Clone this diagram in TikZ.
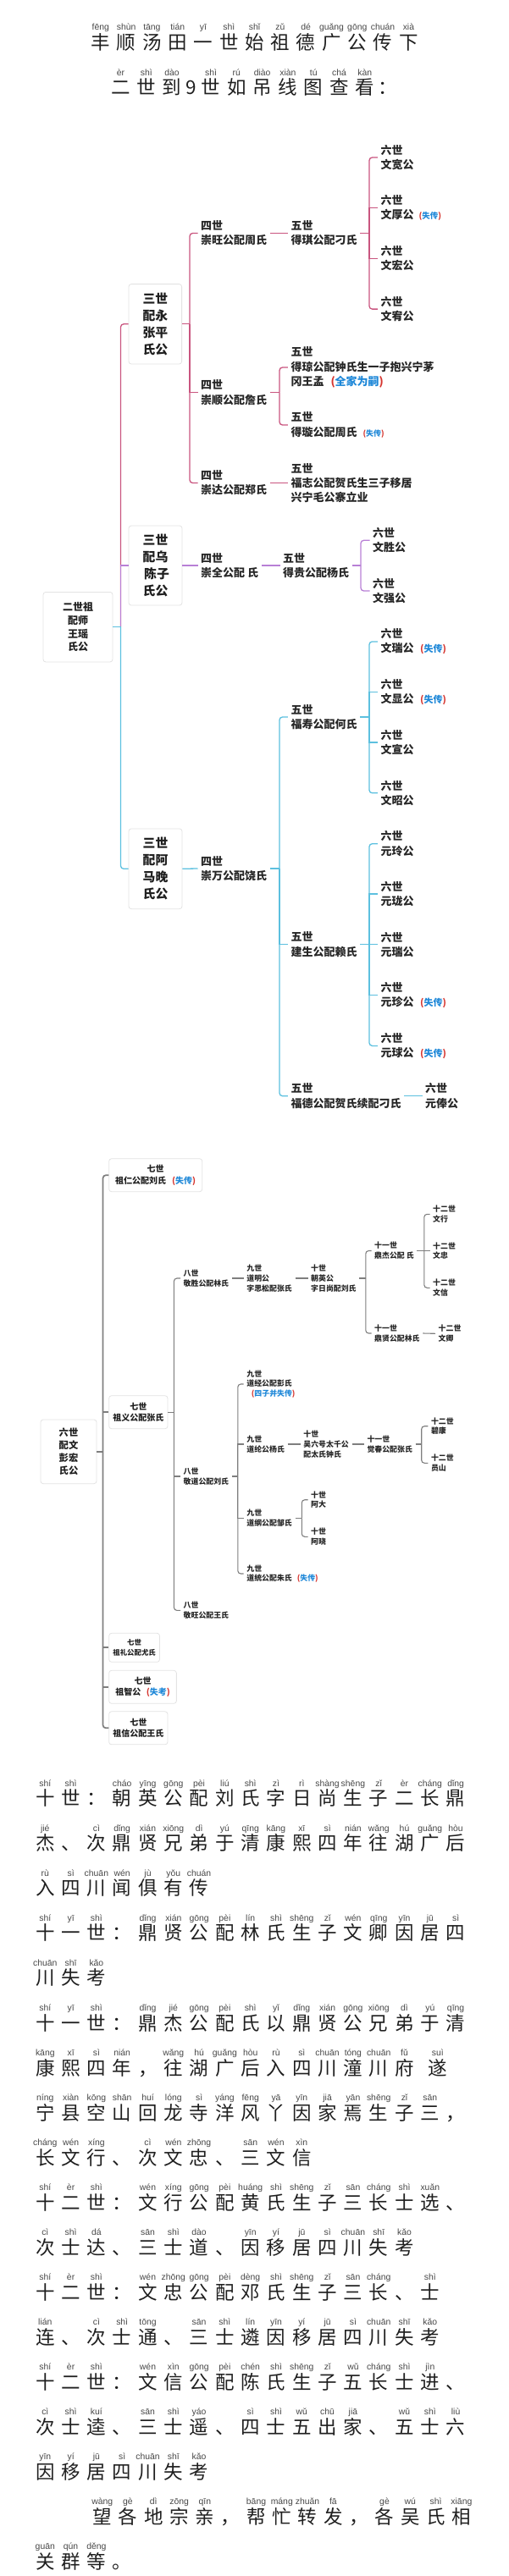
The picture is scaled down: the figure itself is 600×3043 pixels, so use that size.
\documentclass[tikz,border=0pt]{standalone}
\usepackage{fontspec}
\usepackage{xcolor}
\newfontfamily\cjk{Noto Sans CJK SC}
\newfontfamily\pyfont{Liberation Sans}

\definecolor{pinkrule}{HTML}{C9557F}
\definecolor{violetrule}{HTML}{B87FD6}
\definecolor{bluerule}{HTML}{5CC0DF}
\definecolor{grayrule}{HTML}{7E7E7E}
\definecolor{noteblue}{HTML}{1F88D8}
\definecolor{notered}{HTML}{D5342E}

\tikzset{
  hanzi/.style={font=\cjk\fontsize{22.5}{24}\selectfont, text=black!88, inner sep=0pt, text height=19pt, text depth=3.5pt},
  pinyin/.style={font=\pyfont\fontsize{10.4}{12}\selectfont, text=black!72, inner sep=0pt, text height=7.6pt, text depth=2.2pt},
  twig/.style={anchor=west, align=left, inner xsep=3.5pt, inner ysep=0pt, text=black!85},
  big/.style={twig, font=\cjk\bfseries\fontsize{13}{17.3}\selectfont},
  tiny/.style={twig, font=\cjk\bfseries\fontsize{8.9}{11.7}\selectfont},
  card/.style={draw=black!11, line width=0.8, rounded corners=3, fill=white, align=center, inner sep=0pt, text=black!88},
  softbend/.style={rounded corners=3.5},
  pinkrail/.style={draw=pinkrule, line width=1.3},
  violetrail/.style={draw=violetrule, line width=1.3},
  bluerail/.style={draw=bluerule, line width=1.3},
  grayrail/.style={draw=grayrule, line width=1.1},
  mainrail/.style={draw=grayrule, line width=1.7}
}

% one row of characters, each with its pinyin above
\newcommand{\pyrow}[4]{%
  \foreach \py/\ch [count=\k from 0] in {#4} {
    \pgfmathsetmacro{\cx}{#3+30.3*\k}
    \node[hanzi] (#1c\k) at (\cx,#2) {\ch};
    \node[pinyin] (#1p\k) at (\cx,#2-17.7) {\py};
  }%
}
\newcommand{\lost}[3]{{\hspace*{#1pt}\fontsize{#2}{#2}\selectfont\textcolor{notered}{(}\textcolor{noteblue}{#3}\textcolor{notered}{)}}}

\begin{document}
\begin{tikzpicture}[x=1pt, y=-1pt]
\useasboundingbox (0,0) rectangle (600,3043);

% title

\pyrow{ta}{51}{118.8}{fēng/丰,shùn/顺,tāng/汤,tián/田,yī/一,shì/世,shǐ/始,zǔ/祖,dé/德,guǎng/广,gōng/公,chuán/传,xià/下}
\pyrow{tb}{104}{142.5}{èr/二,shì/世,dào/到}
\node[hanzi] (tb9) at (226,104) {9};
\pyrow{tc}{104}{249}{shì/世,rú/如,diào/吊,xiàn/线,tú/图,chá/查,kàn/看}
\pyrow{td}{104}{458}{{}/：}

% second to sixth generation

\node[card, minimum width=82, minimum height=82.5, font=\cjk\bfseries\fontsize{12}{15.6}\selectfont] (g2) at (92,740.7) {二世祖\\配师\\王瑶\\氏公};

\node[card, minimum width=62.6, minimum height=94.4, font=\cjk\bfseries\fontsize{14.8}{20}\selectfont] (g3a) at (183.3,382.8) {三世\\配永\\张平\\氏公};
\node[card, minimum width=63, minimum height=94, font=\cjk\bfseries\fontsize{14.8}{20}\selectfont] (g3b) at (183.5,668) {三世\\配乌\\\hspace*{3pt}陈子\\氏公};
\node[card, minimum width=63, minimum height=94.7, font=\cjk\bfseries\fontsize{14.8}{20}\selectfont] (g3c) at (183.5,1026.3) {三世\\配阿\\马晚\\氏公};

\node[big] (g4a) at (233.5,275.5) {四世\\崇旺公配周氏};
\node[big] (g4b) at (233.5,463.6) {四世\\崇顺公配詹氏};
\node[big] (g4c) at (233.5,570.5) {四世\\崇达公配郑氏};
\node[big] (g4d) at (233.5,668) {四世\\崇全公配 氏};
\node[big] (g4e) at (233.5,1026) {四世\\崇万公配饶氏};

\node[big] (g5a) at (339.8,275.5) {五世\\得琪公配刁氏};
\node[big] (g5b) at (339.8,434) {五世\\得琼公配钟氏生一子抱兴宁茅\\冈王孟\lost{8}{13}{全家为嗣}};
\node[big] (g5c) at (339.8,502) {五世\\得璇公配周氏\lost{7}{9}{失传}};
\node[big] (g5d) at (339.8,570.5) {五世\\福志公配贺氏生三子移居\\兴宁毛公寨立业};
\node[big] (g5e) at (330.5,668) {五世\\得贵公配杨氏};
\node[big] (g5f) at (339.8,847) {五世\\福寿公配何氏};
\node[big] (g5g) at (339.8,1115.8) {五世\\建生公配赖氏};
\node[big] (g5h) at (339.8,1294.7) {五世\\福德公配贺氏续配刁氏};

\node[big] (g6a) at (445.9,186) {六世\\文宽公};
\node[big] (g6b) at (445.9,245.6) {六世\\文厚公\lost{6}{9.5}{失传}};
\node[big] (g6c) at (445.9,305.4) {六世\\文宏公};
\node[big] (g6d) at (445.9,365.1) {六世\\文宥公};
\node[big] (g6e) at (436.5,638.3) {六世\\文胜公};
\node[big] (g6f) at (436.5,698) {六世\\文强公};
\node[big] (g6g) at (445.9,757.9) {六世\\文瑞公\lost{7.5}{11}{失传}};
\node[big] (g6h) at (445.9,817.7) {六世\\文显公\lost{7.5}{11}{失传}};
\node[big] (g6i) at (445.9,877) {六世\\文宣公};
\node[big] (g6j) at (445.9,936.8) {六世\\文昭公};
\node[big] (g6k) at (445.9,996.7) {六世\\元玲公};
\node[big] (g6l) at (445.9,1056) {六世\\元珑公};
\node[big] (g6m) at (445.9,1115.8) {六世\\元瑞公};
\node[big] (g6n) at (445.9,1175.6) {六世\\元珍公\lost{7.5}{11}{失传}};
\node[big] (g6o) at (445.9,1235.4) {六世\\元球公\lost{7.5}{11}{失传}};
\node[big] (g6p) at (498.5,1294.7) {六世\\元俸公};

\coordinate (t2) at (142.5,740.7);
\coordinate (t3a) at (224,382.8);
\coordinate (t4b) at (330,463.6);
\coordinate (t4e) at (330,1026);
\coordinate (t5a) at (436,275.5);
\coordinate (t5e) at (426,668);
\coordinate (t5f) at (436,847);
\coordinate (t5g) at (436,1115.8);

% second to third
\draw[pinkrail, softbend] (t2) |- (g3a.west);
\draw[violetrail] (t2) |- (g3b.west);
\draw[bluerail] (g2.east) -- (t2);
\draw[bluerail, softbend] (t2) |- (g3c.west);

% branch of the first wife
\draw[pinkrail] (g3a.east) -- (t3a);
\draw[pinkrail, softbend] (t3a) |- (g4a.west);
\draw[pinkrail] (t3a) |- (g4b.west);
\draw[pinkrail, softbend] (t3a) |- (g4c.west);
\draw[pinkrail] (g4a.east) -- (g5a.west);
\draw[pinkrail] (g4b.east) -- (t4b);
\draw[pinkrail, softbend] (t4b) |- (g5b.west);
\draw[pinkrail, softbend] (t4b) |- (g5c.west);
\draw[pinkrail] (g4c.east) -- (g5d.west);
\draw[pinkrail] (g5a.east) -- (t5a);
\draw[pinkrail, softbend] (t5a) |- (g6a.west);
\draw[pinkrail] (t5a) |- (g6b.west);
\draw[pinkrail] (t5a) |- (g6c.west);
\draw[pinkrail, softbend] (t5a) |- (g6d.west);

% branch of the second wife
\draw[violetrail] (g3b.east) -- (g4d.west);
\draw[violetrail] (g4d.east) -- (g5e.west);
\draw[violetrail] (g5e.east) -- (t5e);
\draw[violetrail, softbend] (t5e) |- (g6e.west);
\draw[violetrail, softbend] (t5e) |- (g6f.west);

% branch of the third wife
\draw[bluerail] (g3c.east) -- (g4e.west);
\draw[bluerail] (g4e.east) -- (t4e);
\draw[bluerail, softbend] (t4e) |- (g5f.west);
\draw[bluerail] (t4e) |- (g5g.west);
\draw[bluerail, softbend] (t4e) |- (g5h.west);
\draw[bluerail] (g5f.east) -- (t5f);
\draw[bluerail, softbend] (t5f) |- (g6g.west);
\foreach \c in {g6h,g6i} \draw[bluerail] (t5f) |- (\c.west);
\draw[bluerail, softbend] (t5f) |- (g6j.west);
\draw[bluerail] (g5g.east) -- (t5g);
\draw[bluerail, softbend] (t5g) |- (g6k.west);
\foreach \c in {g6l,g6m,g6n} \draw[bluerail] (t5g) |- (\c.west);
\draw[bluerail, softbend] (t5g) |- (g6o.west);
\draw[bluerail] (g5h.east) -- (g6p.west);

% sixth to twelfth generation

\node[card, minimum width=66, minimum height=75.7, font=\cjk\bfseries\fontsize{11.3}{15}\selectfont] (s6) at (81,1714.8) {六世\\配文\\彭宏\\氏公};

\node[card, minimum width=110, minimum height=39, font=\cjk\bfseries\fontsize{10}{13.3}\selectfont] (s7a) at (183.7,1388.2) {七世\\祖仁公配刘氏\lost{7}{10}{失传}};
\node[card, minimum width=69.3, minimum height=39, font=\cjk\bfseries\fontsize{10}{13.3}\selectfont] (s7b) at (163.3,1668.2) {七世\\祖义公配张氏};
\node[card, minimum width=59.8, minimum height=34, font=\cjk\bfseries\fontsize{8.4}{11.2}\selectfont] (s7c) at (158.6,1946.3) {七世\\祖礼公配尤氏};
\node[card, minimum width=79.7, minimum height=39, font=\cjk\bfseries\fontsize{10}{13.3}\selectfont] (s7d) at (168.5,1992.8) {七世\\祖智公\lost{6.5}{10}{失考}};
\node[card, minimum width=69.3, minimum height=39, font=\cjk\bfseries\fontsize{10}{13.3}\selectfont] (s7e) at (163.3,2041.3) {七世\\祖信公配王氏};

\node[tiny] (s8a) at (213,1510) {八世\\敬胜公配林氏};
\node[tiny] (s8b) at (213,1744) {八世\\敬道公配刘氏};
\node[tiny] (s8c) at (213,1902.4) {八世\\敬旺公配王氏};

\node[tiny] (s9a) at (287.7,1510) {九世\\道明公\\字思松配张氏};
\node[tiny] (s9b) at (287.7,1635) {九世\\道经公配彭氏\\\lost{5.5}{8.9}{四子并失传}};
\node[tiny] (s9c) at (287.7,1706) {九世\\道纶公杨氏};
\node[tiny] (s9d) at (287.7,1793.3) {九世\\道纲公配邹氏};
\node[tiny] (s9e) at (287.7,1859) {九世\\道统公配朱氏\lost{6}{8.9}{失传}};

\node[tiny] (s10a) at (363.5,1510) {十世\\朝英公\\字日尚配刘氏};
\node[tiny] (s10b) at (354.7,1706) {十世\\吴六号太千公\\配太氏钟氏};
\node[tiny] (s10c) at (363.5,1771.7) {十世\\阿大};
\node[tiny] (s10d) at (363.5,1815.3) {十世\\阿晓};

\node[tiny] (s11a) at (438.5,1477.5) {十一世\\鼎杰公配 氏};
\node[tiny] (s11b) at (438.5,1575) {十一世\\鼎贤公配林氏};
\node[tiny] (s11c) at (429.8,1706) {十一世\\觉春公配张氏};

\node[tiny] (s12a) at (507.5,1434.3) {十二世\\文行};
\node[tiny] (s12b) at (507.5,1477.7) {十二世\\文忠};
\node[tiny] (s12c) at (507.5,1521.3) {十二世\\文信};
\node[tiny] (s12d) at (514,1575.3) {十二世\\文卿};
\node[tiny] (s12e) at (505.3,1684.7) {十二世\\碧康};
\node[tiny] (s12f) at (505.3,1728.3) {十二世\\员山};

\coordinate (t6) at (121.5,1714.8);
\coordinate (t7b) at (205.4,1668.2);
\coordinate (t8b) at (280.8,1744);
\coordinate (t9d) at (356.3,1793.3);
\coordinate (t10a) at (431.8,1510);
\coordinate (t11a) at (500.8,1477.5);
\coordinate (t11c) at (497.7,1706);

\draw[mainrail] (s6.east) -- (t6);
\draw[mainrail, softbend] (t6) |- (s7a.west);
\foreach \c in {s7b,s7c,s7d} \draw[mainrail] (t6) |- (\c.west);
\draw[mainrail, softbend] (t6) |- (s7e.west);

\draw[grayrail] (s7b.east) -- (t7b);
\draw[grayrail, softbend] (t7b) |- (s8a.west);
\draw[grayrail] (t7b) |- (s8b.west);
\draw[grayrail, softbend] (t7b) |- (s8c.west);

\draw[grayrail] (s8a.east) -- (s9a.west);
\draw[grayrail] (s9a.east) -- (s10a.west);
\draw[grayrail] (s10a.east) -- (t10a);
\draw[grayrail, softbend] (t10a) |- (s11a.west);
\draw[grayrail, softbend] (t10a) |- (s11b.west);
\draw[grayrail] (s11a.east) -- (t11a);
\draw[grayrail, softbend] (t11a) |- (s12a.west);
\draw[grayrail] (t11a) |- (s12b.west);
\draw[grayrail, softbend] (t11a) |- (s12c.west);
\draw[grayrail] (s11b.east) -- (s12d.west);

\draw[grayrail] (s8b.east) -- (t8b);
\draw[grayrail, softbend] (t8b) |- (s9b.west);
\draw[grayrail] (t8b) |- (s9c.west);
\draw[grayrail] (t8b) |- (s9d.west);
\draw[grayrail, softbend] (t8b) |- (s9e.west);
\draw[grayrail] (s9c.east) -- (s10b.west);
\draw[grayrail] (s10b.east) -- (s11c.west);
\draw[grayrail] (s11c.east) -- (t11c);
\draw[grayrail, softbend] (t11c) |- (s12e.west);
\draw[grayrail, softbend] (t11c) |- (s12f.west);
\draw[grayrail] (s9d.east) -- (t9d);
\draw[grayrail, softbend] (t9d) |- (s10c.west);
\draw[grayrail, softbend] (t9d) |- (s10d.west);

% text rows

\pyrow{ra}{2125}{53.3}{shí/十,shì/世,{}/：,cháo/朝,yīng/英,gōng/公,pèi/配,liú/刘,shì/氏,zì/字,rì/日,shàng/尚,shēng/生,zǐ/子,èr/二,cháng/长,dǐng/鼎}
\pyrow{rb}{2178.1}{53.3}{jié/杰,{}/、,cì/次,dǐng/鼎,xián/贤,xiōng/兄,dì/弟,yú/于,qīng/清,kāng/康,xī/熙,sì/四,nián/年,wǎng/往,hú/湖,guǎng/广,hòu/后}
\pyrow{rc}{2231.1}{53.3}{rù/入,sì/四,chuān/川,wén/闻,jù/俱,yǒu/有,chuán/传}
\pyrow{rd}{2284.2}{53.3}{shí/十,yī/一,shì/世,{}/：,dǐng/鼎,xián/贤,gōng/公,pèi/配,lín/林,shì/氏,shēng/生,zǐ/子,wén/文,qīng/卿,yīn/因,jū/居,sì/四}
\pyrow{re}{2337.2}{53.3}{chuān/川,shī/失,kǎo/考}
\pyrow{rf}{2390.3}{53.3}{shí/十,yī/一,shì/世,{}/：,dǐng/鼎,jié/杰,gōng/公,pèi/配,shì/氏,yǐ/以,dǐng/鼎,xián/贤,gōng/公,xiōng/兄,dì/弟,yú/于,qīng/清}
\pyrow{rg}{2443.3}{53.3}{kāng/康,xī/熙,sì/四,nián/年,{}/，,wǎng/往,hú/湖,guǎng/广,hòu/后,rù/入,sì/四,chuān/川,tóng/潼,chuān/川,fǔ/府}
\pyrow{rh}{2443.3}{516.9}{suì/遂}
\pyrow{ri}{2496.4}{53.3}{níng/宁,xiàn/县,kōng/空,shān/山,huí/回,lóng/龙,sì/寺,yáng/洋,fēng/风,yā/丫,yīn/因,jiā/家,yān/焉,shēng/生,zǐ/子,sān/三,{}/，}
\pyrow{rj}{2549.4}{53.3}{cháng/长,wén/文,xíng/行,{}/、,cì/次,wén/文,zhōng/忠,{}/、,sān/三,wén/文,xìn/信}
\pyrow{rk}{2602.5}{53.3}{shí/十,èr/二,shì/世,{}/：,wén/文,xíng/行,gōng/公,pèi/配,huáng/黄,shì/氏,shēng/生,zǐ/子,sān/三,cháng/长,shì/士,xuǎn/选,{}/、}
\pyrow{rl}{2655.5}{53.3}{cì/次,shì/士,dá/达,{}/、,sān/三,shì/士,dào/道,{}/、,yīn/因,yí/移,jū/居,sì/四,chuān/川,shī/失,kǎo/考}
\pyrow{rm}{2708.6}{53.3}{shí/十,èr/二,shì/世,{}/：,wén/文,zhōng/忠,gōng/公,pèi/配,dèng/邓,shì/氏,shēng/生,zǐ/子,sān/三,cháng/长,{}/、,shì/士}
\pyrow{rn}{2761.6}{53.3}{lián/连,{}/、,cì/次,shì/士,tōng/通,{}/、,sān/三,shì/士,lín/遴,yīn/因,yí/移,jū/居,sì/四,chuān/川,shī/失,kǎo/考}
\pyrow{ro}{2814.7}{53.3}{shí/十,èr/二,shì/世,{}/：,wén/文,xìn/信,gōng/公,pèi/配,chén/陈,shì/氏,shēng/生,zǐ/子,wǔ/五,cháng/长,shì/士,jìn/进,{}/、}
\pyrow{rp}{2867.7}{53.3}{cì/次,shì/士,kuí/逵,{}/、,sān/三,shì/士,yáo/遥,{}/、,sì/四,shì/士,wǔ/五,chū/出,jiā/家,{}/、,wǔ/五,shì/士,liù/六}
\pyrow{rq}{2920.8}{53.3}{yīn/因,yí/移,jū/居,sì/四,chuān/川,shī/失,kǎo/考}
\pyrow{rr}{2973.8}{120.7}{wàng/望,gè/各,dì/地,zōng/宗,qīn/亲,{}/，,bāng/帮,máng/忙,zhuǎn/转,fā/发,{}/，,gè/各,wú/吴,shì/氏,xiāng/相}
\pyrow{rs}{3026.9}{53.3}{guān/关,qún/群,děng/等,{}/。}

\end{tikzpicture}
\end{document}
